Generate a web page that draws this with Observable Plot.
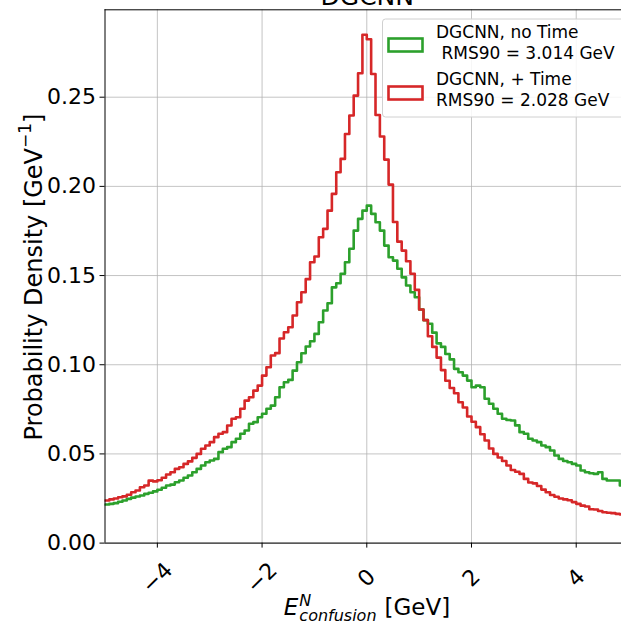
<!DOCTYPE html>
<html><head><meta charset="utf-8">
<script src="https://cdn.jsdelivr.net/npm/d3@7"></script>
<script src="https://cdn.jsdelivr.net/npm/@observablehq/plot@0.6"></script>
<style>body{margin:0;background:#fff;} svg{overflow:hidden;display:block}</style>
</head><body><div id="chart"></div>
<script>
const title = "DGCNN";
const binStart = -5, binWidth = 1 / 12;
const noTime = [
0.0216,0.0220,0.0224,0.0232,0.0239,0.0248,0.0255,0.0261,0.0267,0.0276,
0.0282,0.0290,0.0299,0.0310,0.0323,0.0328,0.0341,0.0351,0.0366,0.0379,
0.0397,0.0416,0.0435,0.0453,0.0463,0.0472,0.0510,0.0529,0.0538,0.0566,
0.0585,0.0613,0.0631,0.0669,0.0678,0.0706,0.0725,0.0753,0.0771,0.0818,
0.0874,0.0902,0.0915,0.0967,0.1014,0.1064,0.1102,0.1132,0.1173,0.1238,
0.1304,0.1345,0.1434,0.1457,0.1510,0.1575,0.1650,0.1752,0.1818,0.1864,
0.1892,0.1846,0.1799,0.1752,0.1668,0.1603,0.1584,0.1538,0.1490,0.1444,
0.1406,0.1378,0.1310,0.1250,0.1230,0.1180,0.1120,0.1100,0.1060,0.1030,
0.0977,0.0958,0.0939,0.0911,0.0874,0.0883,0.0874,0.0809,0.0781,0.0753,
0.0725,0.0697,0.0690,0.0687,0.0660,0.0622,0.0613,0.0585,0.0575,0.0566,
0.0547,0.0538,0.0519,0.0491,0.0472,0.0460,0.0453,0.0444,0.0435,0.0407,
0.0397,0.0392,0.0388,0.0397,0.0360,0.0351,0.0351,0.0351,0.0323,0.0320];
const withTime = [
0.0239,0.0245,0.0250,0.0257,0.0262,0.0271,0.0285,0.0295,0.0313,0.0323,
0.0350,0.0346,0.0352,0.0366,0.0385,0.0397,0.0416,0.0425,0.0444,0.0458,
0.0478,0.0500,0.0529,0.0547,0.0566,0.0594,0.0613,0.0622,0.0659,0.0697,
0.0706,0.0753,0.0799,0.0818,0.0855,0.0883,0.0939,0.0986,0.1052,0.1065,
0.1147,0.1182,0.1210,0.1276,0.1350,0.1406,0.1480,0.1575,0.1607,0.1715,
0.1762,0.1864,0.1958,0.2079,0.2154,0.2294,0.2397,0.2509,0.2634,0.2850,
0.2825,0.2630,0.2400,0.2280,0.2150,0.2010,0.1800,0.1690,0.1640,0.1580,
0.1510,0.1420,0.1310,0.1250,0.1160,0.1100,0.1040,0.0970,0.0910,0.0870,
0.0840,0.0790,0.0760,0.0710,0.0680,0.0650,0.0610,0.0575,0.0530,0.0500,
0.0480,0.0460,0.0435,0.0410,0.0400,0.0388,0.0360,0.0340,0.0335,0.0320,
0.0300,0.0285,0.0270,0.0260,0.0250,0.0245,0.0240,0.0230,0.0220,0.0210,
0.0205,0.0190,0.0188,0.0180,0.0173,0.0170,0.0168,0.0164,0.0160,0.0160];
const seriesNames = ["DGCNN, no Time", "DGCNN, + Time"];
const seriesRms = [" RMS90 = 3.014 GeV", "RMS90 = 2.028 GeV"];
const seriesColors = ["#2ca02c", "#d62728"];
const xTicks = [-4, -2, 0, 2, 4];
const xTickLabels = ["\u22124", "\u22122", "0", "2", "4"];
const yTicks = [0, 0.05, 0.10, 0.15, 0.20, 0.25];
const xDomain = [-5, 4.865];
const yDomain = [0, 0.299];

function steps(values) {
  const pts = values.map((v, i) => ({x: binStart + i * binWidth, y: v}));
  pts.push({x: binStart + values.length * binWidth, y: values[values.length - 1]});
  return pts;
}

const W = 621, H = 624, mL = 104.5, mT = 9.3, mB = 81.4;
const font = "DejaVu Sans";
const gridStyle = {stroke: "#b0b0b0", strokeOpacity: 0.75, strokeWidth: 1};
const plot = Plot.plot({
  width: W, height: H, marginLeft: mL, marginRight: 0, marginTop: mT, marginBottom: mB,
  style: {fontFamily: font, fontSize: "22px", color: "#000", background: "#fff"},
  x: {domain: xDomain},
  y: {domain: yDomain},
  marks: [
    Plot.gridX(xTicks, gridStyle),
    Plot.gridY(yTicks, gridStyle),
    Plot.line(steps(noTime), {x: "x", y: "y", curve: "step-after", stroke: seriesColors[0], strokeWidth: 2.6, clip: true}),
    Plot.line(steps(withTime), {x: "x", y: "y", curve: "step-after", stroke: seriesColors[1], strokeWidth: 2.6, clip: true}),
    Plot.ruleX([xDomain[0]], {stroke: "#000", strokeWidth: 1}),
    Plot.ruleY([yDomain[0]], {stroke: "#000", strokeWidth: 1}),
    Plot.ruleY([yDomain[1]], {stroke: "#000", strokeWidth: 1}),
    Plot.axisY(yTicks, {tickSize: 5, tickPadding: 4, tickFormat: d3.format(".2f"), label: null, fontSize: 22}),
    Plot.axisX(xTicks, {tickSize: 5, tickFormat: () => "", label: null}),
    Plot.text(xTicks, {x: d => d, text: (d, i) => xTickLabels[i], frameAnchor: "bottom", dy: 35, rotate: -45, fontSize: 22, textAnchor: "middle", lineAnchor: "middle"}),
    Plot.text([title], {frameAnchor: "top", dx: 4, dy: -5.3, lineAnchor: "bottom", fontSize: 25, text: d => d})
  ]
});
document.getElementById("chart").append(plot);

const svg = d3.select(plot);
// y label
const yl = svg.append("text").attr("transform", "translate(35,277) rotate(-90)")
  .attr("text-anchor", "middle").attr("dominant-baseline", "middle")
  .attr("font-family", font).attr("font-size", 24).attr("fill", "#000");
yl.append("tspan").text("Probability Density [GeV");
yl.append("tspan").attr("dy", -9).attr("font-size", 17).text("\u22121");
yl.append("tspan").attr("dy", 9).text("]");

// x label
const xg = svg.append("g").attr("font-family", font).attr("fill", "#000").attr("text-anchor", "start");
const tE = xg.append("text").attr("font-size", 23).attr("font-style", "italic").attr("y", 615).text("E");
const tN = xg.append("text").attr("font-size", 16).attr("font-style", "italic").attr("y", 606).text("N");
const tC = xg.append("text").attr("font-size", 16).attr("font-style", "italic").attr("y", 621).text("confusion");
const tG = xg.append("text").attr("font-size", 23).attr("y", 615).text("[GeV]");
const wE = tE.node().getComputedTextLength();
const wC = Math.max(tC.node().getComputedTextLength(), tN.node().getComputedTextLength());
const wG = tG.node().getComputedTextLength();
const gap = 8;
const total = wE + 1 + wC + gap + wG;
const x0 = 367 - total / 2;
tE.attr("x", x0);
tN.attr("x", x0 + wE + 1);
tC.attr("x", x0 + wE + 1);
tG.attr("x", x0 + wE + 1 + wC + gap);

// legend
const lg = svg.append("g").attr("font-family", font).attr("text-anchor", "start");
lg.append("rect").attr("x", 382.5).attr("y", 19).attr("width", 260).attr("height", 98).attr("rx", 3)
  .attr("fill", "#fff").attr("fill-opacity", 0.85).attr("stroke", "#d0d0d0");
seriesNames.forEach((name, i) => {
  const y0 = 38.5 + i * 48;
  lg.append("rect").attr("x", 388.5).attr("y", y0).attr("width", 34).attr("height", 13)
    .attr("fill", "none").attr("stroke", seriesColors[i]).attr("stroke-width", 2.6);
  lg.append("text").attr("x", 436).attr("y", 38 + i * 47).attr("font-size", 17).attr("fill", "#000").text(name);
  lg.append("text").attr("x", 436).attr("y", 58.5 + i * 47).attr("font-size", 17).attr("fill", "#000")
    .style("white-space", "pre").text(seriesRms[i]);
});
</script>
</body></html>
